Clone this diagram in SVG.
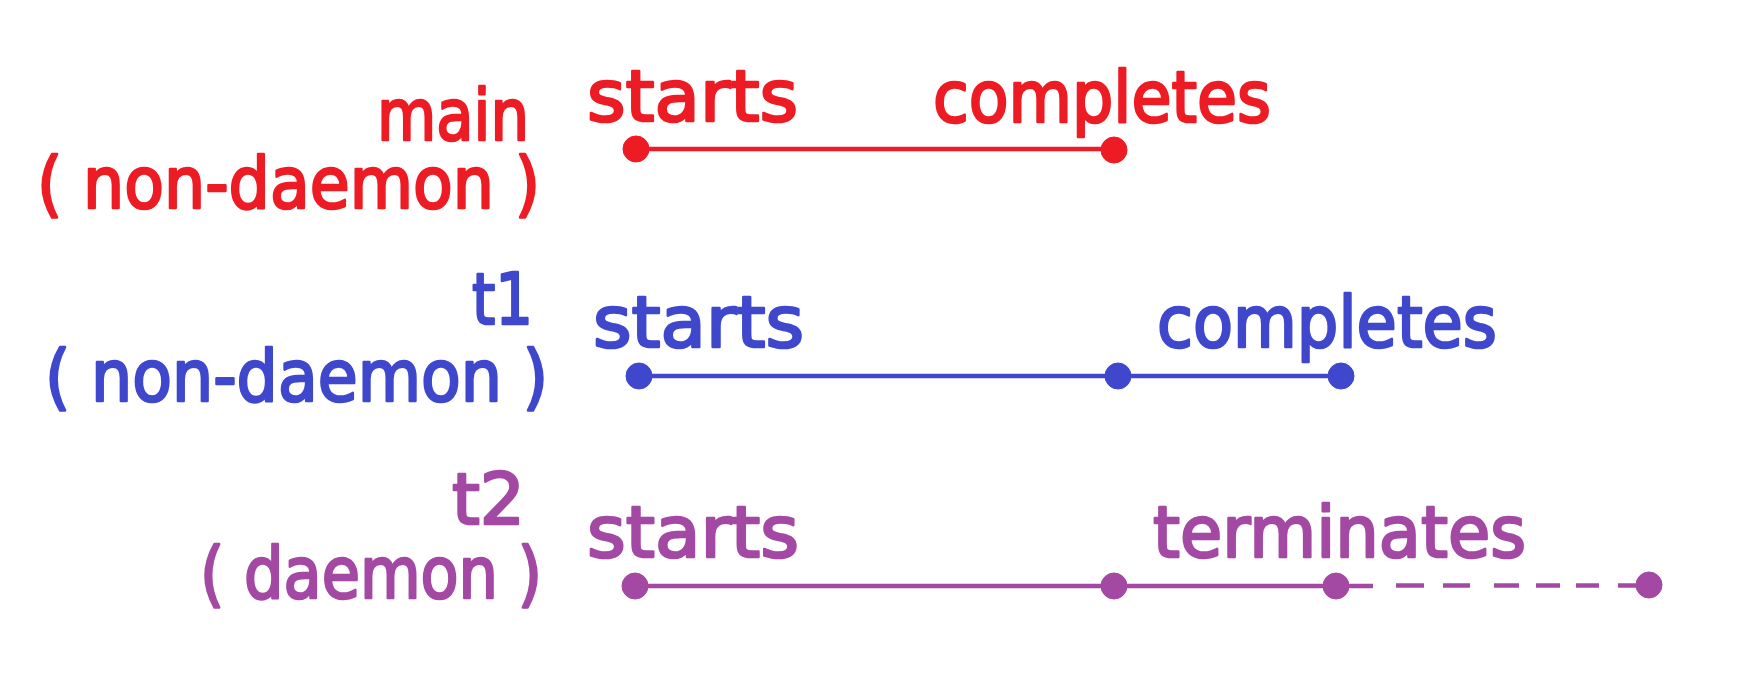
<svg xmlns="http://www.w3.org/2000/svg" width="1755" height="690" viewBox="0 0 1755 690">
<style>
text{font-family:"DejaVu Sans","Liberation Sans",sans-serif;font-size:72px;stroke-width:2.6;stroke-linejoin:round;stroke-linecap:round}
.r{fill:#ED1C24;stroke:#ED1C24}
.b{fill:#3F48CC;stroke:#3F48CC}
.p{fill:#A349A4;stroke:#A349A4}
.ln{fill:none;stroke-width:4.6}
.lr{stroke:#ED1C24}.lb{stroke:#3F48CC}.lp{stroke:#A349A4}
.end{text-anchor:end}
</style>
<rect width="1755" height="690" fill="#fff"/>
<g id="connectors">
<line class="ln lr" x1="636" y1="149" x2="1114" y2="149"/>
<line class="ln lb" x1="639" y1="376" x2="1341" y2="376"/>
<line class="ln lp" x1="635" y1="586" x2="1373" y2="586"/>
<path class="ln lp" d="M1396 585.5H1424M1443 585.5H1470M1494 585.5H1519M1536 585.5H1560M1576 585.5H1599M1618 585.5H1649"/>
</g>
<g id="main-label">
<text class="r end" x="529" y="140" textLength="152" lengthAdjust="spacingAndGlyphs">main</text>
<text class="r" x="37" y="208" textLength="503" lengthAdjust="spacingAndGlyphs">( non-daemon )</text>
</g>
<g id="main-starts">
<text class="r" x="587" y="121" textLength="211" lengthAdjust="spacingAndGlyphs">starts</text>
<circle class="r" cx="636" cy="149" r="13"/>
</g>
<g id="main-completes">
<text class="r" x="933" y="122" textLength="338" lengthAdjust="spacingAndGlyphs">completes</text>
<circle class="r" cx="1114" cy="150" r="13"/>
</g>
<g id="t1-label">
<text class="b end" x="533" y="324" textLength="61" lengthAdjust="spacingAndGlyphs">t1</text>
<text class="b" x="45" y="401" textLength="503" lengthAdjust="spacingAndGlyphs">( non-daemon )</text>
</g>
<g id="t1-starts">
<text class="b" x="593" y="347" textLength="211" lengthAdjust="spacingAndGlyphs">starts</text>
<circle class="b" cx="639" cy="376" r="13"/>
</g>
<g id="t1-mid">
<circle class="b" cx="1118" cy="376" r="13"/>
</g>
<g id="t1-completes">
<text class="b" x="1157" y="347" textLength="340" lengthAdjust="spacingAndGlyphs">completes</text>
<circle class="b" cx="1341" cy="376" r="13"/>
</g>
<g id="t2-label">
<text class="p end" x="525" y="524" textLength="73" lengthAdjust="spacingAndGlyphs">t2</text>
<text class="p" x="200" y="598" textLength="342" lengthAdjust="spacingAndGlyphs">( daemon )</text>
</g>
<g id="t2-starts">
<text class="p" x="587" y="557" textLength="212" lengthAdjust="spacingAndGlyphs">starts</text>
<circle class="p" cx="635" cy="586" r="13"/>
</g>
<g id="t2-mid">
<circle class="p" cx="1114" cy="586" r="13"/>
</g>
<g id="t2-terminates">
<text class="p" x="1153" y="557" textLength="373" lengthAdjust="spacingAndGlyphs">terminates</text>
<circle class="p" cx="1336" cy="586" r="13"/>
</g>
<g id="t2-end">
<circle class="p" cx="1649" cy="585" r="13"/>
</g>
</svg>
